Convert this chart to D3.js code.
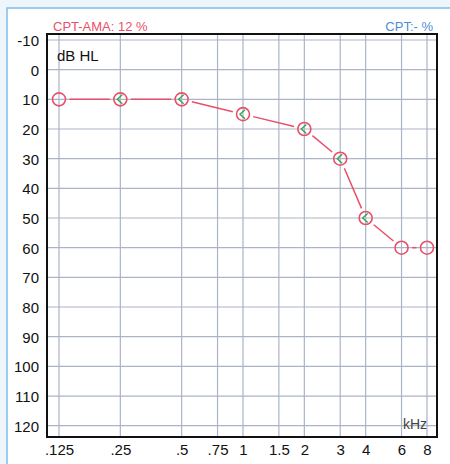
<!DOCTYPE html>
<html><head><meta charset="utf-8">
<script src="https://cdn.jsdelivr.net/npm/d3@7"></script>
<style>body{margin:0;background:#fff}svg{display:block}text{font-family:"Liberation Sans",Arial,sans-serif}</style>
</head><body>
<svg id="c" width="450" height="464"></svg>
<script>
const freqs = [0.125, 0.25, 0.5, 1, 2, 3, 4, 6, 8];
const dbValues = [10, 10, 10, 15, 20, 30, 50, 60, 60];
const boneMarks = [false, true, true, true, true, true, true, false, false];
const xTicks = [0.125, 0.25, 0.5, 0.75, 1, 1.5, 2, 3, 4, 6, 8];
const xTickLabels = [".125", ".25", ".5", ".75", "1", "1.5", "2", "3", "4", "6", "8"];
const yTicks = [-10, 0, 10, 20, 30, 40, 50, 60, 70, 80, 90, 100, 110, 120];

const svg = d3.select("#c");
svg.append("rect").attr("x",0).attr("y",0).attr("width",450).attr("height",464).attr("fill","#eef6fc");
svg.append("rect").attr("x",7).attr("y",8).attr("width",450).attr("height",464).attr("fill","#fff")
  .attr("stroke","#7cc0e8").attr("stroke-width",1.5);

const x = d3.scaleLog().base(2).domain([0.125, 8]).range([59, 427]);
const y = d3.scaleLinear().domain([-10, 120]).range([40, 425.7]);
const frame = {l:47, t:34, r:437, b:437};

const g = svg.append("g");
g.selectAll(".vg").data(xTicks).join("line")
  .attr("x1", d=>x(d)).attr("x2", d=>x(d)).attr("y1", frame.t).attr("y2", frame.b)
  .attr("stroke","#aab4c6").attr("stroke-width",1.2);
g.selectAll(".hg").data(yTicks).join("line")
  .attr("x1", frame.l).attr("x2", frame.r).attr("y1", d=>y(d)).attr("y2", d=>y(d))
  .attr("stroke","#aab4c6").attr("stroke-width",1.2);
g.append("rect").attr("x",frame.l).attr("y",frame.t).attr("width",frame.r-frame.l).attr("height",frame.b-frame.t)
  .attr("fill","none").attr("stroke","#111").attr("stroke-width",2);

const yAxis = d3.axisLeft(y).tickValues(yTicks).tickSize(0).tickPadding(0).tickFormat(d=>d);
const ya = svg.append("g").attr("transform","translate(39,0)").call(yAxis);
ya.select(".domain").remove();
ya.selectAll("text").attr("font-size",15).attr("fill","#111").attr("dy","0.36em");

const xAxis = d3.axisBottom(x).tickValues(xTicks).tickSize(0).tickPadding(0).tickFormat((d,i)=>xTickLabels[i]);
const xa = svg.append("g").attr("transform","translate(0,444)").call(xAxis);
xa.select(".domain").remove();
xa.selectAll("text").attr("font-size",15).attr("fill","#111");

svg.append("text").attr("x",57).attr("y",61).attr("font-size",15).attr("fill","#111").text("dB HL");
svg.append("text").attr("x",427).attr("y",429).attr("text-anchor","end").attr("font-size",14).attr("fill","#444").text("kHz");
svg.append("text").attr("x",53).attr("y",31).attr("font-size",13).attr("fill","#e8506a").text("CPT-AMA: 12 %");
svg.append("text").attr("x",433).attr("y",31).attr("text-anchor","end").attr("font-size",13).attr("fill","#4a8fd6").text("CPT:- %");

const pts = freqs.map((f,i)=>({x:x(f), y:y(dbValues[i]), b:boneMarks[i]}));
const red = "#e8506a", r = 6.5, gap = 4;
for (let i=0;i<pts.length-1;i++){
  const a=pts[i], b=pts[i+1];
  const dx=b.x-a.x, dy=b.y-a.y, L=Math.hypot(dx,dy), ux=dx/L, uy=dy/L, o=r+gap;
  g.append("line").attr("x1",a.x+ux*o).attr("y1",a.y+uy*o).attr("x2",b.x-ux*o).attr("y2",b.y-uy*o)
    .attr("stroke",red).attr("stroke-width",1.5);
}
g.selectAll(".m").data(pts).join("circle").attr("cx",d=>d.x).attr("cy",d=>d.y).attr("r",r)
  .attr("fill","none").attr("stroke",red).attr("stroke-width",1.6);
g.selectAll(".bm").data(pts.filter(d=>d.b)).join("path")
  .attr("d",d=>`M${d.x+2},${d.y-4.5}L${d.x-3},${d.y}L${d.x+2},${d.y+4.5}`)
  .attr("fill","none").attr("stroke","#3aa05a").attr("stroke-width",1.4);
</script>
</body></html>
